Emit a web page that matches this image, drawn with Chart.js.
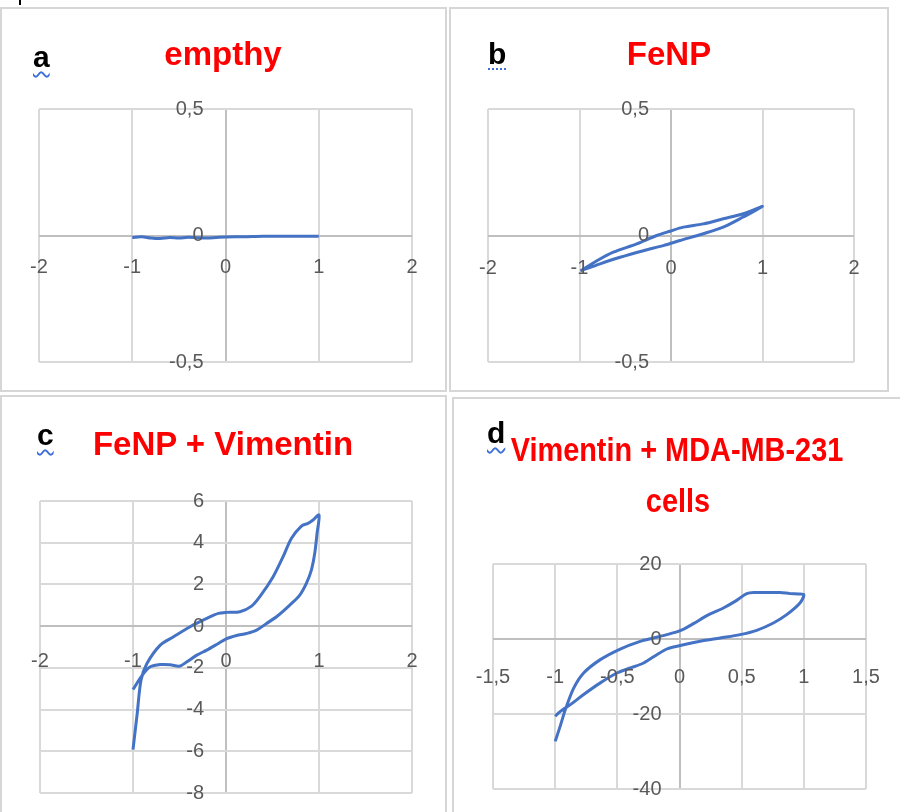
<!DOCTYPE html>
<html>
<head>
<meta charset="utf-8">
<script src="https://cdn.jsdelivr.net/npm/chart.js@4/dist/chart.umd.min.js"></script>
<style>
  body { margin: 0; background: #fff; width: 900px; height: 812px; position: relative; overflow: hidden; }
  .panel { position: absolute; box-sizing: border-box; border: 2px solid #d6d6d6; }
  canvas { position: absolute; }
  .title { position: absolute; width: 400px; text-align: center; color: #ff0000;
           font: bold 33px "Liberation Sans", Arial, sans-serif; line-height: 33px; white-space: nowrap; }
  .title.narrow { font-size: 34px; line-height: 34px; transform: scaleX(0.85); transform-origin: center; }
  .letter { position: absolute; color: #000; font: bold 30px "Liberation Sans", Arial, sans-serif; line-height: 30px;
            text-decoration: underline wavy #3c6fd9; text-decoration-thickness: 1.5px; text-underline-offset: 4px; }
  .letter.dotted { text-decoration-style: dotted; }
</style>
</head>
<body>

<div style="position:absolute;left:19px;top:0;width:2px;height:5px;background:#000"></div>

<div class="panel" style="left:0;top:7px;width:447px;height:385px"></div>
<div class="panel" style="left:449px;top:7px;width:440px;height:385px"></div>
<div class="panel" style="left:0;top:395px;width:447px;height:430px"></div>
<div class="panel" style="left:452px;top:397px;width:460px;height:430px"></div>

<canvas id="chartA" width="447" height="385" style="left:0;top:7px"></canvas>
<canvas id="chartB" width="440" height="385" style="left:449px;top:7px"></canvas>
<canvas id="chartC" width="447" height="417" style="left:0;top:395px"></canvas>
<canvas id="chartD" width="448" height="415" style="left:452px;top:397px"></canvas>

<div class="letter" style="left:33px;top:42px">a</div>
<div class="title" style="left:23px;top:37px">empthy</div>

<div class="letter dotted" style="left:488px;top:39px">b</div>
<div class="title" style="left:469px;top:37px">FeNP</div>

<div class="letter" style="left:37px;top:420px">c</div>
<div class="title" style="left:23px;top:427px">FeNP + Vimentin</div>

<div class="letter" style="left:487px;top:418px">d</div>
<div class="title narrow" style="left:477px;top:432px">Vimentin + MDA-MB-231</div>
<div class="title narrow" style="left:478px;top:483px">cells</div>

<script>
// Magnetisation loops (a-d).

// a - empty cell
var emptyX = [-1, -0.9, -0.8, -0.7, -0.6, -0.5, -0.4, -0.3, -0.2, -0.1, 0, 0.2, 0.4, 0.6, 0.8, 1];
var emptyY = [-0.008, -0.005, -0.01, -0.012, -0.008, -0.01, -0.007, -0.009, -0.01, -0.008, -0.006, -0.005, -0.003, -0.003, -0.003, -0.003];

// b - FeNP
var fenpX = [-0.99, -0.81, -0.63, -0.375, -0.156, -0.011, 0.135, 0.353, 0.571, 0.789, 1.0,
             0.789, 0.571, 0.353, 0.098, -0.084, -0.302, -0.556, -0.775, -0.99];
var fenpY = [-0.14, -0.1, -0.066, -0.033, 0, 0.017, 0.033, 0.046, 0.066, 0.086, 0.115,
             0.073, 0.033, 0.007, -0.02, -0.04, -0.06, -0.086, -0.112, -0.14];

// c - FeNP + Vimentin
var vimX = [-1, -0.955, -0.914, -0.85, -0.707, -0.564, -0.386, -0.207, -0.082, 0.007, 0.15, 0.275, 0.364, 0.507, 0.614, 0.704, 0.811, 0.882, 0.936, 1.0,
            0.979, 0.954, 0.918, 0.864, 0.793, 0.686, 0.543, 0.436, 0.329, 0.221, 0.114, 0.007, -0.082, -0.207, -0.314, -0.42, -0.5, -0.6, -0.707, -0.814, -0.9, -1.0];
var vimY = [-5.92, -4.2, -2.59, -1.79, -0.91, -0.51, -0.03, 0.37, 0.61, 0.66, 0.69, 0.96, 1.41, 2.37, 3.33, 4.21, 4.8, 4.93, 5.09, 5.33,
            4.45, 3.49, 2.69, 2.05, 1.49, 1.01, 0.45, 0.13, -0.19, -0.35, -0.45, -0.6, -0.83, -1.15, -1.39, -1.71, -1.92, -1.85, -1.84, -1.95, -2.35, -3.04];

// d - Vimentin + MDA-MB-231 cells
var cellsX = [-1, -0.96, -0.918, -0.851, -0.771, -0.637, -0.477, -0.316, -0.209, -0.102, 0.005, 0.112, 0.22, 0.353, 0.46, 0.541, 0.608, 0.701, 0.809, 0.889, 0.956, 1.0,
              0.969, 0.862, 0.755, 0.621, 0.487, 0.327, 0.166, 0.032, -0.048, -0.102, -0.182, -0.289, -0.396, -0.503, -0.637, -0.771, -0.878, -0.958, -1.0];
var cellsY = [-27.3, -23.3, -18.8, -13.1, -9.07, -5.5, -2.67, -0.62, 0.27, 1.16, 2.22, 4.09, 6.22, 8.27, 10.3, 12.1, 12.4, 12.4, 12.4, 12.1, 12.0, 11.8,
              9.6, 6.49, 4.27, 2.31, 1.16, 0.27, -0.62, -1.51, -2.13, -2.67, -4.18, -6.4, -7.73, -9.07, -11.7, -14.8, -17.5, -19.3, -20.6];

// Tick values and their printed labels (comma decimals, as in the original).
var xTicksWide = [-2, -1, 0, 1, 2];
var xLabelsWide = ['-2', '-1', '0', '1', '2'];
var xTicksNarrow = [-1.5, -1, -0.5, 0, 0.5, 1, 1.5];
var xLabelsNarrow = ['-1,5', '-1', '-0,5', '0', '0,5', '1', '1,5'];
var yTicksSmall = [-0.5, 0, 0.5];
var yLabelsSmall = ['-0,5', '0', '0,5'];
var yTicksVim = [-8, -6, -4, -2, 0, 2, 4, 6];
var yLabelsVim = ['-8', '-6', '-4', '-2', '0', '2', '4', '6'];
var yTicksCells = [-40, -20, 0, 20];
var yLabelsCells = ['-40', '-20', '0', '20'];

// Excel puts the value labels next to the crossing axes, not on the chart edge,
// so the tick labels are painted by hand at the scale's pixel positions.
var crossingLabels = {
  id: 'crossingLabels',
  afterDatasetsDraw: function(chart, args, opts) {
    var ctx = chart.ctx;
    var xs = chart.scales.x, ys = chart.scales.y;
    var x0 = xs.getPixelForValue(0), y0 = ys.getPixelForValue(0);
    ctx.save();
    ctx.font = '20px "Liberation Sans", Arial, sans-serif';
    ctx.fillStyle = '#595959';
    ctx.textBaseline = 'middle';
    ctx.textAlign = 'center';
    opts.xTicks.forEach(function(v, i) {
      ctx.fillText(opts.xLabels[i], xs.getPixelForValue(v), y0 + opts.xOffset);
    });
    ctx.textAlign = 'right';
    opts.yTicks.forEach(function(v, i) {
      ctx.fillText(opts.yLabels[i], x0 - opts.yGap, ys.getPixelForValue(v));
    });
    ctx.restore();
  }
};

function gridColor(c) {
  return c.tick && c.tick.value === 0 ? '#bfbfbf' : '#d9d9d9';
}

function toPoints(xs, ys) {
  return xs.map(function(x, i) { return { x: x, y: ys[i] }; });
}

function makeLoop(id, xs, ys, xTicks, xLabels, yTicks, yLabels, padding, xOffset, yGap) {
  return new Chart(document.getElementById(id), {
    type: 'scatter',
    data: {
      datasets: [{
        data: toPoints(xs, ys),
        showLine: true,
        borderColor: '#4472c4',
        borderWidth: 3,
        pointRadius: 0,
        tension: 0.3
      }]
    },
    options: {
      responsive: false,
      animation: false,
      layout: { padding: padding },
      plugins: {
        legend: { display: false },
        tooltip: { enabled: false },
        crossingLabels: { xTicks: xTicks, xLabels: xLabels, yTicks: yTicks, yLabels: yLabels, xOffset: xOffset, yGap: yGap }
      },
      scales: {
        x: {
          min: xTicks[0], max: xTicks[xTicks.length - 1],
          afterBuildTicks: function(s) { s.ticks = xTicks.map(function(v) { return { value: v }; }); },
          ticks: { display: false },
          grid: { color: gridColor, lineWidth: 2, drawTicks: false },
          border: { display: false }
        },
        y: {
          min: yTicks[0], max: yTicks[yTicks.length - 1],
          afterBuildTicks: function(s) { s.ticks = yTicks.map(function(v) { return { value: v }; }); },
          ticks: { display: false },
          grid: { color: gridColor, lineWidth: 2, drawTicks: false },
          border: { display: false }
        }
      }
    },
    plugins: [crossingLabels]
  });
}

makeLoop('chartA', emptyX, emptyY, xTicksWide, xLabelsWide, yTicksSmall, yLabelsSmall,
         { left: 39, top: 102, right: 35, bottom: 30 }, 32, 22);
makeLoop('chartB', fenpX, fenpY, xTicksWide, xLabelsWide, yTicksSmall, yLabelsSmall,
         { left: 39, top: 102, right: 35, bottom: 30 }, 33, 22);
makeLoop('chartC', vimX, vimY, xTicksWide, xLabelsWide, yTicksVim, yLabelsVim,
         { left: 40, top: 106, right: 35, bottom: 19 }, 35, 22);
makeLoop('chartD', cellsX, cellsY, xTicksNarrow, xLabelsNarrow, yTicksCells, yLabelsCells,
         { left: 41, top: 167, right: 34, bottom: 23 }, 38, 18);
</script>
</body>
</html>
